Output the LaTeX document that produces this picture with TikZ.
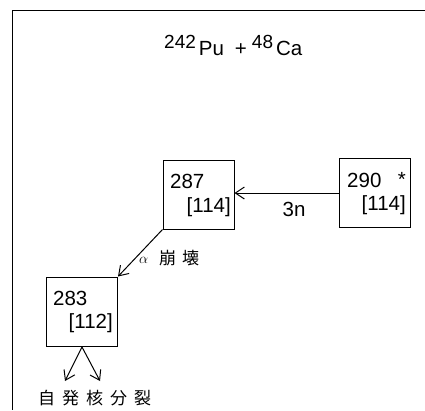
\documentclass[tikz,border=0pt]{standalone}
\usepackage{fontspec}
\setmainfont{Liberation Sans}
\newfontfamily\cjk{Noto Sans CJK JP}
\usetikzlibrary{arrows.meta}
\newcommand{\supnum}[1]{\raisebox{7pt}{\fontsize{19}{19}\selectfont #1}}
\begin{document}
\begin{tikzpicture}[x=1pt,y=-1pt,
  nbox/.style={draw,line width=1pt,minimum width=71pt,minimum height=69pt,inner sep=0pt},
  num/.style={inner sep=0pt,font=\fontsize{20.5}{20.5}\selectfont},
  jp/.style={inner sep=0pt,font=\cjk\fontsize{17}{17}\selectfont},
  arr/.style={line width=1pt,-{Straight Barb[length=9pt,width=12pt,line width=1pt]}}]
\useasboundingbox (0,0) rectangle (425,410);
\fill[white] (0,0) rectangle (425,410);
\draw[line width=0.8pt] (425,10) -- (12,10) -- (12,410);
% title
\node[num,anchor=base west] (title) at (164,55) {\supnum{242}\kern3pt Pu\kern11pt+\kern5pt\supnum{48}\kern3pt Ca};
% boxes
\node[nbox] (b287) at (198.5,194.5) {};
\node[nbox] (b290) at (375,192.5) {};
\node[nbox] (b283) at (82,311.5) {};
% texts in boxes
\node[num,anchor=base west] (t287) at (170,188) {287};
\node[num,anchor=base east] (z287) at (231,212) {[114]};
\node[num,anchor=base west] (t290) at (347,187) {290};
\node[num,anchor=base east] (s290) at (406,186) {*};
\node[num,anchor=base east] (z290) at (406,210) {[114]};
\node[num,anchor=base west] (t283) at (53,305) {283};
\node[num,anchor=base east] (z283) at (113,328) {[112]};
% 3n arrow
\coordinate (p290) at (b290.west |- 0,193);
\coordinate (p287) at (b287.east |- 0,193);
\draw[arr] (p290) -- (p287);
\node[num,anchor=base] (l3n) at (294,216) {3n};
% alpha decay
\draw[arr] (b287.south west) -- (b283.north east);
\node[anchor=base west,inner sep=0pt,font=\fontsize{15}{15}\selectfont] (lalpha) at (139,263) {$\alpha$};
\node[jp,anchor=base west] (ldecay) at (159,264) {崩\kern6pt 壊};
% fission
\coordinate (f0) at (82,347);
\coordinate (f1) at (65,381);
\coordinate (f2) at (100,381);
\draw[arr] (f0) -- (f1);
\draw[arr] (f0) -- (f2);
\node[jp,anchor=base west] (lfis) at (38,404) {自\kern7pt 発\kern7pt 核\kern7pt 分\kern7pt 裂};
\end{tikzpicture}
\end{document}
